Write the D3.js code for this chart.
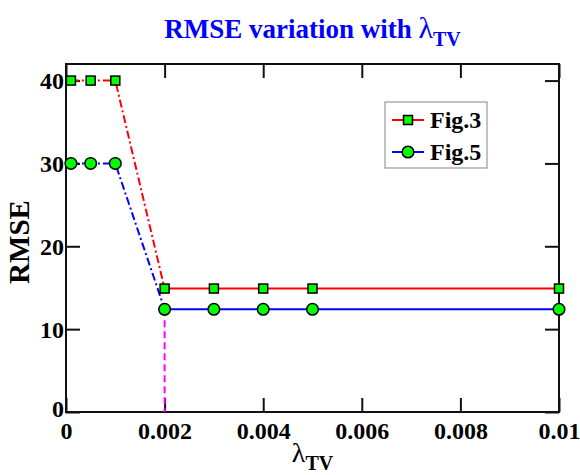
<!DOCTYPE html>
<html>
<head>
<meta charset="utf-8">
<script src="https://cdn.jsdelivr.net/npm/d3@7"></script>
<style>
  body { margin: 0; background: #fff; }
  text { font-family: "Liberation Serif", "Times New Roman", serif; font-weight: bold; }
</style>
</head>
<body>
<script>
'use strict';

// lambda_TV values and RMSE for the two figures
const lambdaTV = [0.0001, 0.0005, 0.001, 0.002, 0.003, 0.004, 0.005, 0.01];
const rmseFig3 = [40, 40, 40, 14.9, 14.9, 14.9, 14.9, 14.9];
const rmseFig5 = [30, 30, 30, 12.4, 12.4, 12.4, 12.4, 12.4];
const xTicks = [0, 0.002, 0.004, 0.006, 0.008, 0.01];
const xTickLabels = ["0", "0.002", "0.004", "0.006", "0.008", "0.01"];
const yTicks = [0, 10, 20, 30, 40];
const legendNames = ["Fig.3", "Fig.5"];
const cutoff = 0.002; // point where the RMSE drops

(function () {
  const width = 580, height = 475;
  const plotLeft = 66, plotRight = 559, plotTop = 64, plotBottom = 412;

  const svg = d3.select('body').append('svg')
    .attr('width', width)
    .attr('height', height);

  const xScale = d3.scaleLinear().domain([0, 0.01]).range([plotLeft, plotRight]);
  const yScale = d3.scaleLinear().domain([0, 42]).range([plotBottom, plotTop]);

  // ticks point inwards on all four sides
  function styleAxis(g) {
    g.attr('font-family', null);
    g.select('.domain').remove();
    g.selectAll('.tick line').attr('stroke', '#111').attr('stroke-width', 2);
  }

  svg.append('g')
    .attr('transform', `translate(0,${plotBottom})`)
    .call(d3.axisBottom(xScale).tickValues(xTicks).tickSize(-14).tickPadding(11)
      .tickFormat((d, i) => xTickLabels[i]))
    .call(styleAxis)
    .selectAll('text')
    .attr('dy', '0.66em')
    .style('font-size', '24px')
    .attr('fill', '#000');

  svg.append('g')
    .attr('transform', `translate(0,${plotTop})`)
    .call(d3.axisTop(xScale).tickValues(xTicks).tickSize(-14).tickFormat(''))
    .call(styleAxis);

  svg.append('g')
    .attr('transform', `translate(${plotLeft},0)`)
    .call(d3.axisLeft(yScale).tickValues(yTicks).tickSize(-14).tickPadding(2))
    .call(styleAxis)
    .selectAll('text')
    .attr('dy', (d) => d === 0 ? '0.2em' : '0.34em')
    .style('font-size', '24px')
    .attr('fill', '#000');

  svg.append('g')
    .attr('transform', `translate(${plotRight},0)`)
    .call(d3.axisRight(yScale).tickValues(yTicks).tickSize(-14).tickFormat(''))
    .call(styleAxis);

  // plot frame
  svg.append('rect')
    .attr('x', plotLeft).attr('y', plotTop)
    .attr('width', plotRight - plotLeft).attr('height', plotBottom - plotTop)
    .attr('fill', 'none')
    .attr('stroke', '#111')
    .attr('stroke-width', 2);

  // vertical marker at the cutoff
  svg.append('line')
    .attr('x1', xScale(cutoff)).attr('x2', xScale(cutoff))
    .attr('y1', yScale(rmseFig5[3])).attr('y2', yScale(0))
    .attr('stroke', '#ff00ff')
    .attr('stroke-width', 2)
    .attr('stroke-dasharray', '7,4');

  const series = [
    { values: rmseFig3, color: '#ff0000', marker: 'square' },
    { values: rmseFig5, color: '#0000ff', marker: 'circle' }
  ];

  const line = d3.line()
    .x(d => xScale(d[0]))
    .y(d => yScale(d[1]));

  series.forEach(s => {
    const pts = lambdaTV.map((x, i) => [x, s.values[i]]);
    // dash-dot before the drop, solid afterwards
    svg.append('path')
      .attr('d', line(pts.slice(0, 4)))
      .attr('fill', 'none')
      .attr('stroke', s.color)
      .attr('stroke-width', 2)
      .attr('stroke-dasharray', '8,3,2,3');
    svg.append('path')
      .attr('d', line(pts.slice(3)))
      .attr('fill', 'none')
      .attr('stroke', s.color)
      .attr('stroke-width', 2);
  });

  function drawMarker(g, type, x, y) {
    if (type === 'square') {
      g.append('rect')
        .attr('x', x - 4.5).attr('y', y - 4.5)
        .attr('width', 9).attr('height', 9)
        .attr('fill', '#00ff00')
        .attr('stroke', '#000')
        .attr('stroke-width', 1.5);
    } else {
      g.append('circle')
        .attr('cx', x).attr('cy', y)
        .attr('r', 5.8)
        .attr('fill', '#00ff00')
        .attr('stroke', '#000')
        .attr('stroke-width', 1.5);
    }
  }

  series.forEach(s => {
    const g = svg.append('g');
    lambdaTV.forEach((x, i) => drawMarker(g, s.marker, xScale(x), yScale(s.values[i])));
  });

  // legend
  const legend = svg.append('g').attr('transform', 'translate(385,102)');
  legend.append('rect')
    .attr('width', 102).attr('height', 66)
    .attr('fill', '#fff')
    .attr('stroke', '#999')
    .attr('stroke-width', 1.2);

  series.forEach((s, i) => {
    const y = 18 + i * 32;
    legend.append('line')
      .attr('x1', 7).attr('x2', 39)
      .attr('y1', y).attr('y2', y)
      .attr('stroke', s.color)
      .attr('stroke-width', 2);
    drawMarker(legend, s.marker, 23, y);
    legend.append('text')
      .attr('x', 45).attr('y', y + 8)
      .style('font-size', '24px')
      .text(legendNames[i]);
  });

  // title
  const title = svg.append('text')
    .attr('x', (plotLeft + plotRight) / 2)
    .attr('y', 38)
    .attr('text-anchor', 'middle')
    .attr('fill', '#0000ff')
    .style('font-size', '27px');
  title.append('tspan').text('RMSE variation with ');
  title.append('tspan').style('font-size', '30px').style('font-weight', 'normal').text('λ');
  title.append('tspan').attr('dy', 8).style('font-size', '20px').text('TV');

  // axis labels
  const xLabel = svg.append('text')
    .attr('x', (plotLeft + plotRight) / 2)
    .attr('y', 462)
    .attr('text-anchor', 'middle')
    .style('font-size', '28px');
  xLabel.append('tspan').style('font-weight', 'normal').text('λ');
  xLabel.append('tspan').attr('dy', 8).style('font-size', '20px').text('TV');

  svg.append('text')
    .attr('transform', `translate(29,${(plotTop + plotBottom) / 2 + 4}) rotate(-90)`)
    .attr('text-anchor', 'middle')
    .style('font-size', '29px')
    .text('RMSE');
})();
</script>
</body>
</html>
